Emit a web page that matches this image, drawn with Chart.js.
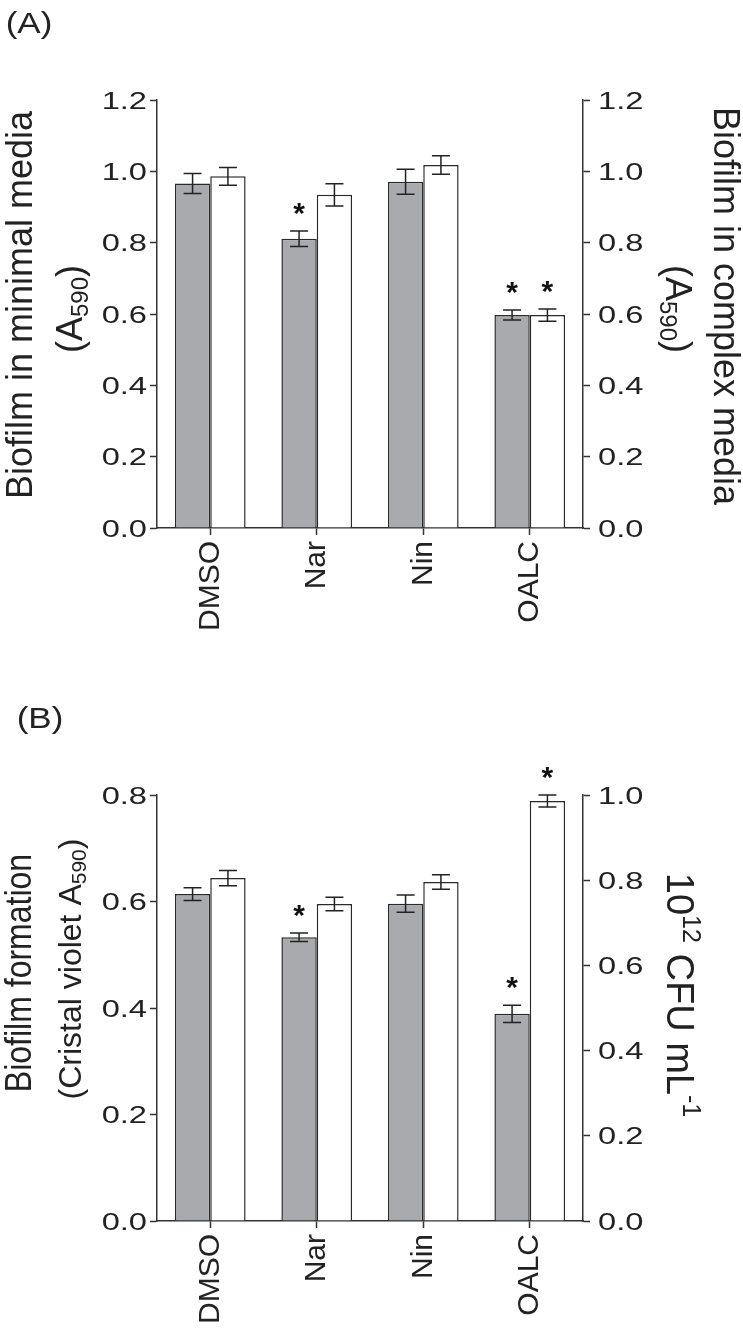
<!DOCTYPE html>
<html>
<head>
<meta charset="utf-8">
<script src="https://cdn.jsdelivr.net/npm/chart.js@4.4.1/dist/chart.umd.min.js"></script>
<style>
  body { margin: 0; background: #fff; }
  canvas { display: block; }
</style>
</head>
<body>
<canvas id="chartA" width="743" height="660"></canvas>
<canvas id="chartB" width="743" height="671"></canvas>
<script>
// categories shared by both panels
const categories = ['DMSO', 'Nar', 'Nin', 'OALC'];

// Panel A: biofilm in minimal (gray) and complex (white) media, A590
const minimalMedia = [0.966, 0.811, 0.971, 0.597];
const minimalErr = [0.028, 0.022, 0.035, 0.014];
const minimalSig = [false, true, false, true];
const complexMedia = [0.986, 0.934, 1.018, 0.597];
const complexErr = [0.025, 0.031, 0.026, 0.017];
const complexSig = [false, false, false, true];
const ticksA = [0, 0.2, 0.4, 0.6, 0.8, 1.0, 1.2];

// Panel B: crystal violet (gray, left axis) and CFU (white, right axis)
const crystalViolet = [0.614, 0.533, 0.596, 0.389];
const crystalErr = [0.012, 0.008, 0.016, 0.016];
const crystalSig = [false, true, false, true];
const cfu = [0.805, 0.744, 0.796, 0.986];
const cfuErr = [0.018, 0.016, 0.017, 0.014];
const cfuSig = [false, false, false, true];
const ticksBLeft = [0, 0.2, 0.4, 0.6, 0.8];
const ticksBRight = [0, 0.2, 0.4, 0.6, 0.8, 1.0];

const FONT = '"Liberation Sans", Arial, Helvetica, sans-serif';
const INK = '#222';
const GRAY = '#a9aaae';

// draws a line of text with sub/superscript parts, centred on (cx, cy)
// sy stretches the glyph height (text's own vertical direction)
function drawRich(ctx, parts, cx, cy, angle, size, sy) {
  const small = Math.round(size * 0.66);
  let total = 0;
  parts.forEach(p => {
    ctx.font = (p.s ? small : size) + 'px ' + FONT;
    p.w = ctx.measureText(p.t).width;
    total += p.w;
  });
  ctx.save();
  ctx.translate(cx, cy);
  ctx.rotate(angle);
  ctx.scale(1, sy || 1);
  ctx.fillStyle = INK;
  ctx.textAlign = 'left';
  ctx.textBaseline = 'alphabetic';
  let x = -total / 2;
  const base = size * 0.36;
  parts.forEach(p => {
    ctx.font = (p.s ? small : size) + 'px ' + FONT;
    let y = base;
    if (p.s === -1) y += size * 0.16;
    if (p.s === 1) y -= size * 0.4;
    ctx.fillText(p.t, x, y);
    x += p.w;
  });
  ctx.restore();
}

function makeExtras(texts) {
  return {
    id: 'extras',
    afterDatasetsDraw(chart) {
      const ctx = chart.ctx;
      chart.data.datasets.forEach((ds, i) => {
        const meta = chart.getDatasetMeta(i);
        const scale = chart.scales[ds.yAxisID];
        meta.data.forEach((bar, j) => {
          const v = ds.data[j], e = ds.errors[j];
          const top = scale.getPixelForValue(v + e);
          const bot = scale.getPixelForValue(v - e);
          ctx.save();
          ctx.strokeStyle = INK;
          ctx.lineWidth = 1.5;
          ctx.beginPath();
          ctx.moveTo(bar.x, top); ctx.lineTo(bar.x, bot);
          ctx.moveTo(bar.x - 9, top); ctx.lineTo(bar.x + 9, top);
          ctx.moveTo(bar.x - 9, bot); ctx.lineTo(bar.x + 9, bot);
          ctx.stroke();
          if (ds.stars[j]) {
            ctx.fillStyle = '#111';
            ctx.font = 'bold 30px ' + FONT;
            ctx.textAlign = 'center';
            ctx.textBaseline = 'alphabetic';
            ctx.fillText('*', bar.x, top - 25 + 17);
          }
          ctx.restore();
        });
      });
    },
    afterDraw(chart) {
      const ctx = chart.ctx;
      // y tick labels, drawn a little wide like the original figure
      ['y', 'y1'].forEach(id => {
        const s = chart.scales[id];
        const left = s.position === 'left';
        const ax = left ? s.right - 10 : s.left + 15;
        s.ticks.forEach(t => {
          ctx.save();
          ctx.translate(ax, s.getPixelForValue(t.value) + 2);
          ctx.scale(1.36, 1);
          ctx.fillStyle = INK;
          ctx.font = '24px ' + FONT;
          ctx.textAlign = left ? 'right' : 'left';
          ctx.textBaseline = 'middle';
          ctx.fillText(t.value.toFixed(1), 0, 0);
          ctx.restore();
        });
      });
      texts.forEach(t => drawRich(ctx, t.parts, t.x, t.y, t.angle, t.size, t.sy));
    }
  };
}

function yAxis(position, max, width, ticksList) {
  return {
    type: 'linear',
    position: position,
    min: 0,
    max: max,
    afterBuildTicks: s => { s.ticks = ticksList.map(v => ({ value: v })); },
    afterFit: s => { s.width = width; },
    ticks: { display: false },
    grid: { drawOnChartArea: false, tickLength: 7, tickColor: '#333', tickWidth: 1.5 },
    border: { color: '#333', width: 1.5 }
  };
}

function xAxis(height) {
  return {
    z: 1,
    afterFit: s => { s.height = height; },
    ticks: {
      color: INK,
      font: { size: 30, family: FONT },
      minRotation: 90,
      maxRotation: 90,
      padding: 6,
      autoSkip: false
    },
    grid: { offset: false, drawOnChartArea: false, tickLength: 7, tickColor: '#333', tickWidth: 1.5 },
    border: { color: '#333', width: 1.5 }
  };
}

function barSet(label, data, errors, stars, color, axis) {
  return {
    label: label,
    data: data,
    errors: errors,
    stars: stars,
    yAxisID: axis,
    backgroundColor: color,
    borderColor: '#2a2a2a',
    borderWidth: 1.5,
    categoryPercentage: 0.664,
    barPercentage: 1.0
  };
}

const r90 = Math.PI / 2;

// Panel A
new Chart(document.getElementById('chartA'), {
  type: 'bar',
  data: {
    labels: categories,
    datasets: [
      barSet('Minimal media', minimalMedia, minimalErr, minimalSig, GRAY, 'y'),
      barSet('Complex media', complexMedia, complexErr, complexSig, '#ffffff', 'y1')
    ]
  },
  options: {
    responsive: false,
    animation: false,
    layout: { padding: { top: 100, left: 0, right: 0, bottom: 0 } },
    plugins: { legend: { display: false }, tooltip: { enabled: false } },
    scales: {
      x: xAxis(132),
      y: yAxis('left', 1.2, 157, ticksA),
      y1: yAxis('right', 1.2, 160, ticksA)
    }
  },
  plugins: [makeExtras([
    { parts: [{ t: '(A)' }], x: 29, y: 22, angle: 0, size: 35, sy: 0.85 },
    { parts: [{ t: 'Biofilm in minimal media' }], x: 19, y: 305, angle: -r90, size: 36 },
    { parts: [{ t: '(A' }, { t: '590', s: -1 }, { t: ')' }], x: 69, y: 309, angle: -r90, size: 36 },
    { parts: [{ t: 'Biofilm in complex media' }], x: 727, y: 306, angle: r90, size: 36 },
    { parts: [{ t: '(A' }, { t: '590', s: -1 }, { t: ')' }], x: 679, y: 309, angle: r90, size: 36 }
  ])]
});

// Panel B
new Chart(document.getElementById('chartB'), {
  type: 'bar',
  data: {
    labels: categories,
    datasets: [
      barSet('Crystal violet', crystalViolet, crystalErr, crystalSig, GRAY, 'y'),
      barSet('CFU', cfu, cfuErr, cfuSig, '#ffffff', 'y1')
    ]
  },
  options: {
    responsive: false,
    animation: false,
    layout: { padding: { top: 135, left: 0, right: 0, bottom: 0 } },
    plugins: { legend: { display: false }, tooltip: { enabled: false } },
    scales: {
      x: xAxis(110),
      y: yAxis('left', 0.8, 157, ticksBLeft),
      y1: yAxis('right', 1.0, 160, ticksBRight)
    }
  },
  plugins: [makeExtras([
    { parts: [{ t: '(B)' }], x: 40, y: 57, angle: 0, size: 35, sy: 0.85 },
    { parts: [{ t: 'Biofilm formation' }], x: 18, y: 313, angle: -r90, size: 32, sy: 1.15 },
    { parts: [{ t: '(Cristal violet A' }, { t: '590', s: -1 }, { t: ')' }], x: 69, y: 309, angle: -r90, size: 32 },
    { parts: [{ t: '10' }, { t: '12', s: 1 }, { t: ' CFU mL' }, { t: '-1', s: 1 }], x: 681, y: 335, angle: r90, size: 38 }
  ])]
});
</script>
</body>
</html>
